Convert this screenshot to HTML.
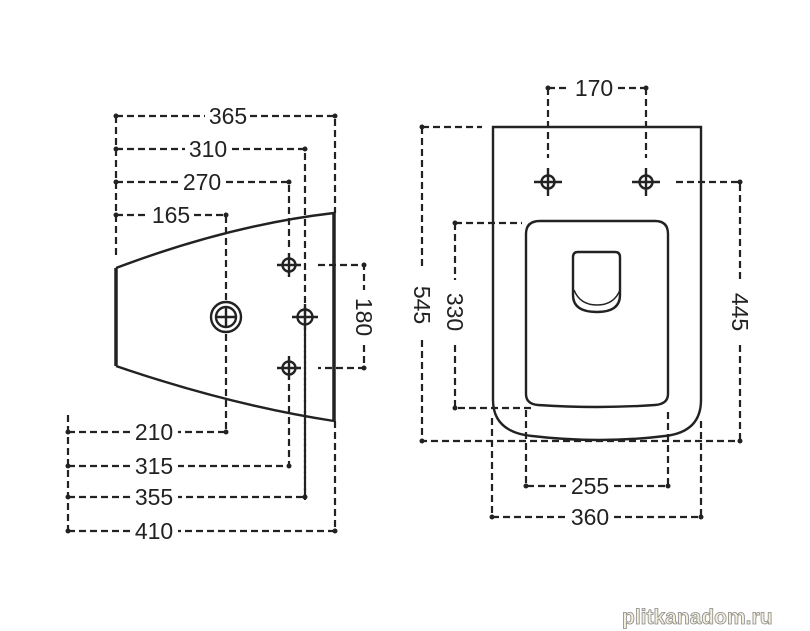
<!DOCTYPE html>
<html><head><meta charset="utf-8"><style>
html,body{margin:0;padding:0;background:#fff;}
svg{display:block}
text{font-family:"Liberation Sans",sans-serif;font-size:23px;fill:#222;}
</style></head><body>
<svg width="810" height="631" viewBox="0 0 810 631" xmlns="http://www.w3.org/2000/svg">
<g stroke="#222" stroke-width="2.2" fill="none" stroke-dasharray="7,4">
<path d="M116 116H205 M250 116H335 V213"/>
<path d="M116 149H185 M232 149H305 V500"/>
<path d="M116 182H178 M226 182H289 V250"/>
<path d="M116 215H148 M194 215H226 V300"/>
<path d="M116 116V258"/>
<path d="M318 265H364V290 M364 345V368H318"/>
<path d="M226 334V432H178 M130 432H68"/>
<path d="M289 384V466H178 M130 466H68"/>
<path d="M305 334V497H178 M130 497H68"/>
<path d="M335 421V531H178 M130 531H68"/>
<path d="M68 415V531"/>
<path d="M548 88H570 M618 88H646 M548 88V158 M646 88V158"/>
<path d="M422 127H482 M422 127V270 M422 340V441H740"/>
<path d="M455 223H522 M455 223V280 M455 345V408H535"/>
<path d="M676 182H740V280 M740 345V441"/>
<path d="M526 410V486H566 M614 486H668V410"/>
<path d="M492 418V517H566 M614 517H701V418"/>
</g>
<g fill="#222">
<circle cx="116" cy="116" r="2.5"/><circle cx="335" cy="116" r="2.5"/>
<circle cx="116" cy="149" r="2.5"/><circle cx="305" cy="149" r="2.5"/>
<circle cx="116" cy="182" r="2.5"/><circle cx="289" cy="182" r="2.5"/>
<circle cx="116" cy="215" r="2.5"/><circle cx="226" cy="215" r="2.5"/>
<circle cx="364" cy="265" r="2.5"/><circle cx="364" cy="368" r="2.5"/>
<circle cx="68" cy="432" r="2.5"/><circle cx="226" cy="432" r="2.5"/>
<circle cx="68" cy="466" r="2.5"/><circle cx="289" cy="466" r="2.5"/>
<circle cx="68" cy="497" r="2.5"/><circle cx="305" cy="497" r="2.5"/>
<circle cx="68" cy="531" r="2.5"/><circle cx="335" cy="531" r="2.5"/>
<circle cx="548" cy="88" r="2.5"/><circle cx="646" cy="88" r="2.5"/>
<circle cx="422" cy="127" r="2.5"/><circle cx="422" cy="441" r="2.5"/>
<circle cx="455" cy="223" r="2.5"/><circle cx="455" cy="408" r="2.5"/>
<circle cx="740" cy="182" r="2.5"/><circle cx="740" cy="441" r="2.5"/>
<circle cx="526" cy="486" r="2.5"/><circle cx="668" cy="486" r="2.5"/>
<circle cx="492" cy="517" r="2.5"/><circle cx="701" cy="517" r="2.5"/>
</g>
<g stroke="#222" fill="none" stroke-width="2.4">
<path d="M116 268 Q230 225 334 213 M116 366 Q230 405 334 421"/>
<path d="M116 268V366" stroke-width="3.5"/>
<path d="M334 213V421" stroke-width="3.5"/>
<circle cx="226" cy="317" r="15"/><circle cx="226" cy="317" r="10"/>
<path d="M216 317H236 M226 307V327"/>
<circle cx="289" cy="265" r="6.5"/><path d="M277 265H301 M289 253V277"/>
<circle cx="305" cy="317" r="7.5"/><path d="M292 317H318 M305 304V330"/>
<circle cx="289" cy="368" r="6.5"/><path d="M277 368H301 M289 356V380"/>
<path d="M493 127H701V400 Q701 432 665 436 Q600 444 532 436 Q493 432 493 400Z"/>
<path d="M540 221H655 Q668 221 668 234V394 Q668 404 655 405 Q597 409 538 405 Q526 404 526 394V234 Q526 221 540 221Z"/>
<path d="M578 252H615 Q620 252 620 257V295 Q620 312 597 312 Q573 312 573 295V257 Q573 252 578 252Z"/>
<path d="M574 290 Q580 305 597 305 Q614 305 620 290" stroke-width="1.5"/>
<circle cx="548" cy="182" r="6.5"/><path d="M534 182H562 M548 168V196"/>
<circle cx="646" cy="182" r="6.5"/><path d="M632 182H660 M646 168V196"/>
</g>
<g text-anchor="middle">
<text x="228" y="124">365</text>
<text x="208" y="157">310</text>
<text x="202" y="190">270</text>
<text x="171" y="223">165</text>
<text x="154" y="440">210</text>
<text x="154" y="474">315</text>
<text x="154" y="505">355</text>
<text x="154" y="539">410</text>
<text x="594" y="96">170</text>
<text x="590" y="494">255</text>
<text x="590" y="525">360</text>
<text transform="translate(356,317) rotate(90)">180</text>
<text transform="translate(414,305) rotate(90)">545</text>
<text transform="translate(447,312) rotate(90)">330</text>
<text transform="translate(732,312) rotate(90)">445</text>
</g>
<text x="622" y="624" style="font-size:21px;font-weight:bold;fill:#f4f0dc;stroke:#888;stroke-width:0.8">plitkanadom.ru</text>
</svg>
</body></html>
